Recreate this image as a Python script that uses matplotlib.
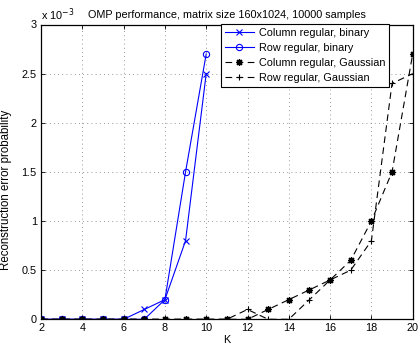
import matplotlib
matplotlib.use("Agg")
import matplotlib.pyplot as plt
from matplotlib.ticker import FuncFormatter, MultipleLocator

plt.rcParams['font.family'] = ['Liberation Sans', 'DejaVu Sans']

K_binary = [2, 3, 4, 5, 6, 7, 8, 9, 10]
col_binary = [0, 0, 0, 0, 0, 0.0001, 0.0002, 0.0008, 0.0025]
row_binary = [0, 0, 0, 0, 0, 0, 0.0002, 0.0015, 0.0027]

K_gauss = [2, 3, 4, 5, 6, 7, 8, 9, 10, 11, 12, 13, 14, 15, 16, 17, 18, 19, 20]
col_gauss = [0, 0, 0, 0, 0, 0, 0, 0, 0, 0, 0, 0.0001, 0.0002, 0.0003, 0.0004,
             0.0006, 0.0010, 0.0015, 0.0027]
row_gauss = [0, 0, 0, 0, 0, 0, 0, 0, 0, 0, 0.0001, 0, 0, 0.0002, 0.0004,
             0.0005, 0.0008, 0.0024, 0.0025]

labels = ['Column regular, binary', 'Row regular, binary',
          'Column regular, Gaussian', 'Row regular, Gaussian']
title = 'OMP performance, matrix size 160x1024, 10000 samples'

fig = plt.figure(figsize=(4.19, 3.45), dpi=100)
ax = fig.add_axes([41/419, 1-319.3/345, (412.7-41)/419, (319.3-24.5)/345])

fs = 7.8
ax.plot(K_binary, col_binary, color='b', ls='-', lw=0.8, marker='x',
        ms=4, mew=0.8, label=labels[0])
ax.plot(K_binary, row_binary, color='b', ls='-', lw=0.8, marker='o',
        ms=4.5, mew=0.8, mfc='none', label=labels[1])
ax.plot(K_gauss, col_gauss, color='k', ls=(0, (6, 4)), lw=0.8, marker=(8, 2, 0),
        ms=5, mew=0.9, label=labels[2])
ax.plot(K_gauss, row_gauss, color='k', ls=(0, (6, 4)), lw=0.8, marker='+',
        ms=5, mew=0.8, label=labels[3])

ax.set_xlim(2, 20)
ax.set_ylim(0, 0.003)
ax.xaxis.set_major_locator(MultipleLocator(2))
ax.yaxis.set_major_locator(MultipleLocator(0.0005))
ax.yaxis.set_major_formatter(FuncFormatter(lambda v, p: f'{v/1e-3:g}'))
ax.tick_params(direction='in', length=3, width=0.6, labelsize=fs,
               top=True, right=True, pad=3)
ax.grid(True, color='#777777', ls=(0, (1, 4)), lw=0.6)
for s in ax.spines.values():
    s.set_linewidth(0.9)

ax.text(0.0, 1.005, r'x 10$^{-3}$', transform=ax.transAxes, fontsize=fs,
        ha='left', va='bottom')
ax.set_title(title, fontsize=fs, pad=5)
ax.set_xlabel('K', fontsize=fs, labelpad=1)
ax.set_ylabel('Reconstruction error probability', fontsize=8.3, labelpad=3)
ax.yaxis.set_label_coords(-0.078, 0.44)

leg = ax.legend(loc='upper right', fontsize=fs, frameon=True,
                fancybox=False, edgecolor='k', framealpha=1, borderpad=0.35,
                labelspacing=0.45, handlelength=2.75, handletextpad=0.4,
                borderaxespad=0)
leg.set_bbox_to_anchor((389/419, 1-24.5/345), transform=fig.transFigure)
leg.get_frame().set_linewidth(0.8)

fig.savefig('out.png', dpi=100)
